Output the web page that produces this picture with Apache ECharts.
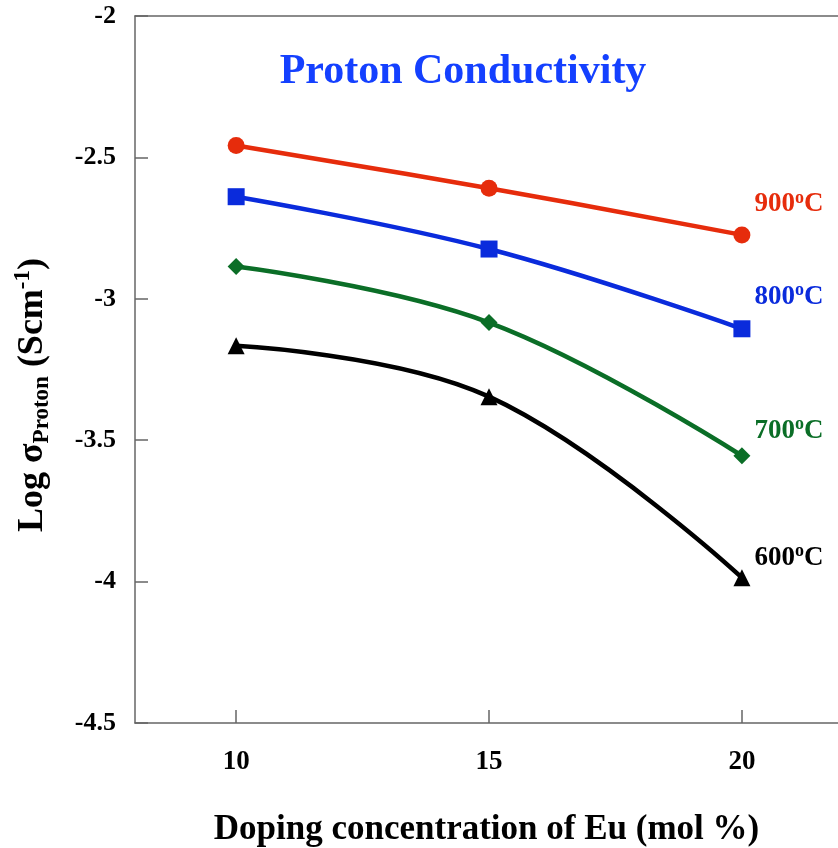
<!DOCTYPE html>
<html>
<head>
<meta charset="utf-8">
<title>Proton Conductivity</title>
<script src="https://cdn.jsdelivr.net/npm/echarts@6/dist/echarts.min.js"></script>
<style>
  html, body { margin: 0; padding: 0; background: #ffffff; }
  #chart { width: 838px; height: 848px; }
</style>
</head>
<body>
<div id="chart"></div>
<script>
// Eu doping levels (mol %)
const dopingEu = [10, 15, 20];
// Measurement temperatures (°C)
const temperatures = ['900', '800', '700', '600'];
// log10 of proton conductivity (S/cm) at each doping level
const log900 = [-2.458, -2.609, -2.774];
const log800 = [-2.639, -2.824, -3.106];
const log700 = [-2.886, -3.084, -3.555];
const log600 = [-3.166, -3.346, -3.986];
// Axis tick labels
const xTicks = [10, 15, 20];
const yTicks = [-4.5, -4, -3.5, -3, -2.5, -2];

const FONT = "'Liberation Serif', 'Times New Roman', serif";
const AXIS_COLOR = '#666666';

const seriesDefs = [
  { temp: temperatures[0], values: log900, color: '#E62C0C', symbol: 'circle',   size: 17, labelDy: -31 },
  { temp: temperatures[1], values: log800, color: '#0A2BDC', symbol: 'rect',     size: 17, labelDy: -32 },
  { temp: temperatures[2], values: log700, color: '#0B6E27', symbol: 'diamond',  size: 17, labelDy: -25 },
  { temp: temperatures[3], values: log600, color: '#000000', symbol: 'triangle', size: 17, labelDy: -20 }
];

function buildSeries(def) {
  const data = dopingEu.map((x, i) => {
    const item = { value: [x, def.values[i]] };
    if (i === dopingEu.length - 1) {
      item.label = {
        show: true,
        position: 'right',
        distance: 4,
        offset: [0, def.labelDy],
        formatter: def.temp + '{sup|o}C',
        color: def.color,
        fontFamily: FONT,
        fontWeight: 'bold',
        fontSize: 27,
        lineHeight: 30,
        rich: {
          sup: {
            fontFamily: FONT,
            fontWeight: 'bold',
            fontSize: 18,
            color: def.color,
            verticalAlign: 'top',
            lineHeight: 30,
            padding: [0, 0, 16, 0]
          }
        }
      };
    }
    return item;
  });
  return {
    name: def.temp + '°C',
    type: 'line',
    smooth: 0.4,
    data: data,
    symbol: def.symbol,
    symbolSize: def.size,
    showAllSymbol: true,
    lineStyle: { color: def.color, width: 4.5 },
    itemStyle: { color: def.color },
    emphasis: { disabled: true },
    z: 3
  };
}

const chart = echarts.init(document.getElementById('chart'), null, { renderer: 'canvas' });

const frameLine = { show: true, lineStyle: { color: AXIS_COLOR, width: 1.5 } };

chart.setOption({
  animation: false,
  backgroundColor: '#ffffff',
  grid: { left: 135, right: 0, top: 16, bottom: 125, show: false, containLabel: false, outerBoundsMode: 'none' },
  xAxis: [
    {
      type: 'value',
      min: 8,
      max: 21.9,
      position: 'bottom',
      name: 'Doping concentration of Eu (mol %)',
      nameLocation: 'middle',
      nameGap: 89,
      nameTextStyle: { fontFamily: FONT, fontWeight: 'bold', fontSize: 35, color: '#000' },
      axisLine: frameLine,
      axisTick: { show: true, inside: true, length: 13, customValues: xTicks, lineStyle: { color: AXIS_COLOR, width: 1.5 } },
      axisLabel: {
        customValues: xTicks,
        margin: 26,
        fontFamily: FONT, fontWeight: 'bold', fontSize: 27, color: '#000'
      },
      splitLine: { show: false }
    },
    {
      // top frame edge
      type: 'value',
      min: 8,
      max: 21.9,
      position: 'top',
      axisLine: frameLine,
      axisTick: { show: false },
      axisLabel: { show: false },
      splitLine: { show: false }
    }
  ],
  yAxis: {
    type: 'value',
    min: yTicks[0],
    max: yTicks[yTicks.length - 1],
    interval: 0.5,
    axisLine: frameLine,
    axisTick: { show: true, inside: true, length: 13, lineStyle: { color: AXIS_COLOR, width: 1.5 } },
    axisLabel: {
      margin: 19,
      fontFamily: FONT, fontWeight: 'bold', fontSize: 26, color: '#000'
    },
    splitLine: { show: false }
  },
  graphic: [
    {
      type: 'text',
      x: 463, y: 72,
      style: {
        text: 'Proton Conductivity',
        font: "bold 42px 'Liberation Serif', 'Times New Roman', serif",
        fill: '#1440FF',
        align: 'center',
        verticalAlign: 'middle'
      },
      z: 10
    },
    {
      type: 'text',
      x: 33, y: 395,
      rotation: Math.PI / 2,
      style: {
        text: '{m|Log σ}{s|Proton}{m| (Scm}{p|-1}{m|)}',
        align: 'center',
        verticalAlign: 'middle',
        fill: '#000',
        rich: {
          m: { fontFamily: FONT, fontWeight: 'bold', fontSize: 36, lineHeight: 42, verticalAlign: 'middle' },
          s: { fontFamily: FONT, fontWeight: 'bold', fontSize: 23, lineHeight: 42, verticalAlign: 'bottom', padding: [0, 0, 0, 0] },
          p: { fontFamily: FONT, fontWeight: 'bold', fontSize: 23, lineHeight: 42, verticalAlign: 'top', padding: [0, 0, 10, 0] }
        }
      },
      z: 10
    }
  ],
  series: seriesDefs.map(buildSeries)
});
</script>
</body>
</html>
